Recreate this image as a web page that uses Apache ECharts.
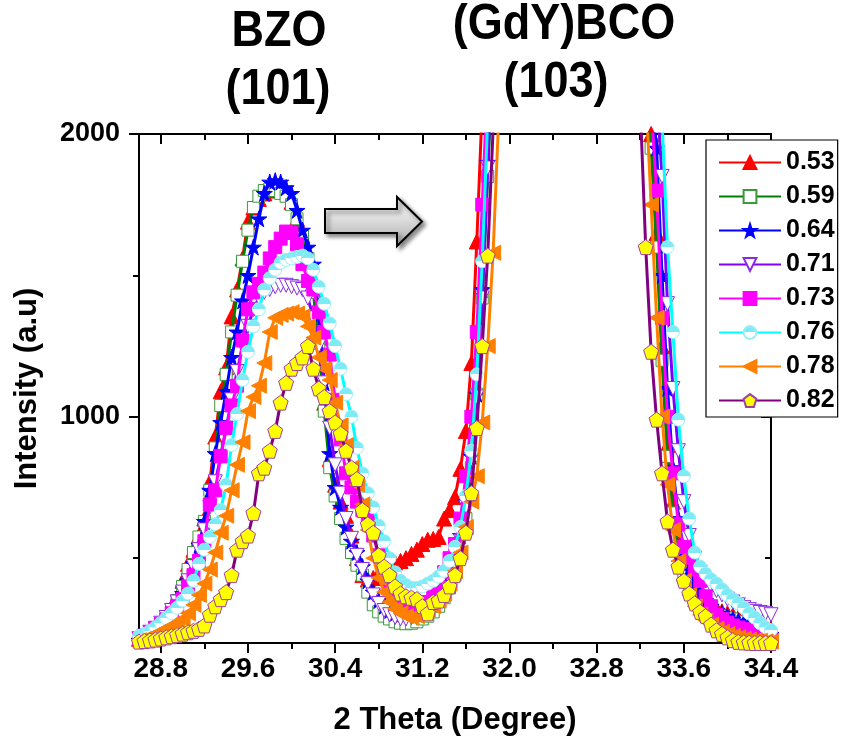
<!DOCTYPE html>
<html>
<head>
<meta charset="utf-8">
<title>XRD patterns</title>
<script src="https://cdn.jsdelivr.net/npm/echarts@6/dist/echarts.min.js"></script>
<style>
  html, body { margin: 0; padding: 0; background: #ffffff; }
  #chart { width: 841px; height: 741px; }
</style>
</head>
<body>
<div id="chart"></div>
<script>
// 2-theta sampling positions: the BZO (101) region and the tail of the (GdY)BCO (103) peak
const thetaLow = [28.60, 28.65, 28.70, 28.75, 28.80, 28.85, 28.90, 28.95, 29.00, 29.05,
  29.10, 29.15, 29.20, 29.25, 29.30, 29.35, 29.40, 29.45, 29.50, 29.55,
  29.60, 29.65, 29.70, 29.75, 29.80, 29.85, 29.90, 29.95, 30.00, 30.05,
  30.10, 30.15, 30.20, 30.25, 30.30, 30.35, 30.40, 30.45, 30.50, 30.55,
  30.60, 30.65, 30.70, 30.75, 30.80, 30.85, 30.90, 30.95, 31.00, 31.05,
  31.10, 31.15, 31.20, 31.25, 31.30, 31.35, 31.40, 31.45, 31.50, 31.55,
  31.60, 31.65, 31.70, 31.75, 31.80, 31.85, 31.90];
const thetaHigh = [33.15, 33.20, 33.25, 33.30, 33.35, 33.40, 33.45, 33.50, 33.55, 33.60,
  33.65, 33.70, 33.75, 33.80, 33.85, 33.90, 33.95, 34.00, 34.05, 34.10,
  34.15, 34.20, 34.25, 34.30, 34.35, 34.40];

// Sample labels (composition ratio)
const ratios = ['0.53', '0.59', '0.64', '0.71', '0.73', '0.76', '0.78', '0.82'];

// Intensities (a.u.) on thetaLow
const low053 = [215, 225, 235, 250, 268, 290, 320, 360, 420, 480,
  530, 580, 640, 770, 930, 1090, 1175, 1355, 1450, 1560,
  1690, 1740, 1770, 1790, 1800, 1810, 1815, 1800, 1760, 1700,
  1640, 1570, 1450, 1280, 1050, 850, 760, 700, 650, 580,
  500, 440, 425, 430, 445, 460, 475, 485, 490, 500,
  515, 530, 550, 565, 568, 575, 640, 670, 716, 816,
  950, 1190, 1620, 2100, 2600, 3100, 3600];
const low059 = [210, 220, 232, 248, 265, 288, 315, 350, 400, 460,
  520, 575, 630, 740, 890, 1040, 1150, 1300, 1430, 1550,
  1660, 1740, 1780, 1800, 1805, 1800, 1790, 1780, 1750, 1700,
  1640, 1560, 1440, 1260, 1020, 820, 720, 640, 570, 520,
  475, 440, 380, 335, 310, 295, 285, 275, 270, 268,
  270, 275, 285, 295, 310, 330, 360, 395, 440, 520,
  640, 820, 1080, 1420, 1850, 2300, 2800];
const low064 = [210, 218, 228, 242, 258, 278, 302, 335, 375, 420,
  480, 545, 630, 740, 870, 980, 1090, 1210, 1300, 1410,
  1500, 1600, 1700, 1790, 1830, 1835, 1830, 1810, 1790, 1730,
  1660, 1600, 1540, 1360, 1120, 870, 750, 680, 610, 560,
  520, 470, 420, 380, 350, 330, 315, 305, 300, 300,
  305, 315, 330, 345, 360, 380, 410, 450, 500, 580,
  700, 860, 1080, 1450, 1900, 2400, 2900];
const low071 = [215, 225, 238, 252, 270, 290, 315, 345, 380, 420,
  470, 530, 600, 680, 770, 860, 960, 1060, 1160, 1250,
  1320, 1380, 1420, 1440, 1450, 1460, 1465, 1465, 1460, 1455,
  1450, 1420, 1350, 1250, 1120, 960, 830, 730, 640, 570,
  510, 460, 410, 370, 340, 315, 300, 290, 285, 285,
  290, 300, 310, 325, 340, 360, 390, 430, 480, 560,
  680, 850, 1070, 1420, 1880, 2400, 2900];
const low073 = [215, 225, 238, 252, 268, 283, 305, 330, 355, 400,
  440, 490, 560, 690, 740, 860, 960, 1040, 1110, 1270,
  1380, 1440, 1470, 1510, 1560, 1600, 1630, 1655, 1650, 1610,
  1540, 1480, 1450, 1370, 1300, 1220, 1060, 920, 800, 750,
  700, 670, 640, 580, 510, 460, 410, 375, 350, 338,
  332, 330, 335, 345, 365, 400, 450, 500, 550, 640,
  790, 1000, 1300, 1750, 2200, 2700, 3200];
const low076 = [225, 232, 242, 255, 270, 288, 305, 325, 350, 375,
  420, 480, 530, 575, 620, 670, 760, 900, 1010, 1130,
  1230, 1320, 1380, 1450, 1490, 1520, 1545, 1555, 1560, 1565,
  1570, 1560, 1520, 1460, 1400, 1330, 1250, 1170, 1080, 1000,
  890, 800, 730, 680, 615, 560, 500, 450, 420, 405,
  395, 395, 400, 410, 420, 435, 455, 490, 540, 610,
  720, 880, 1150, 1550, 2050, 2600, 3100];
const low078 = [210, 215, 222, 232, 242, 252, 262, 272, 285, 305,
  335, 370, 410, 460, 520, 590, 650, 740, 830, 910,
  1020, 1070, 1110, 1190, 1300, 1350, 1360, 1365, 1370, 1365,
  1355, 1320, 1280, 1210, 1170, 1130, 1050, 970, 900, 820,
  760, 690, 600, 500, 430, 380, 345, 320, 305, 295,
  290, 295, 305, 315, 330, 350, 375, 410, 455, 520,
  610, 700, 790, 980, 1250, 1580, 2050];
const low082 = [205, 207, 209, 212, 216, 220, 224, 228, 233, 238,
  243, 250, 262, 300, 330, 355, 380, 440, 530, 560,
  580, 660, 800, 820, 880, 950, 1050, 1120, 1170, 1190,
  1210, 1250, 1170, 1100, 1070, 1020, 980, 940, 880, 820,
  780, 670, 620, 590, 510, 470, 440, 400, 375, 365,
  360, 355, 330, 305, 345, 350, 370, 400, 440, 500,
  590, 730, 960, 1250, 1570, 2020, 2450];

// Intensities (a.u.) on thetaHigh
const high053 = [2700, 2400, 2200, 2000, 1650, 1250, 900, 700, 560, 480,
  430, 395, 370, 350, 335, 322, 312, 305, 298, 290,
  283, 278, 270, 262, 255, 248];
const high059 = [2650, 2350, 2150, 1950, 1600, 1200, 860, 660, 530, 450,
  400, 365, 340, 320, 308, 300, 295, 290, 285, 275,
  262, 250, 238, 228, 220, 215];
const high064 = [2900, 2600, 2350, 2150, 1950, 1500, 1100, 820, 640, 530,
  460, 410, 375, 350, 330, 315, 305, 295, 285, 278,
  272, 265, 255, 245, 238, 230];
const high071 = [3000, 2700, 2450, 2250, 2150, 1850, 1400, 1100, 880, 700,
  580, 500, 450, 420, 400, 385, 370, 355, 345, 335,
  325, 318, 312, 308, 305, 300];
const high073 = [2800, 2500, 2250, 2100, 1800, 1350, 1000, 800, 620, 540,
  500, 460, 420, 365, 330, 300, 285, 272, 262, 255,
  250, 245, 240, 235, 230, 225];
const high076 = [3200, 2900, 2600, 2400, 2200, 2050, 1600, 1300, 990, 790,
  640, 520, 470, 445, 425, 410, 390, 370, 355, 340,
  325, 305, 290, 270, 255, 245];
const high078 = [2600, 2300, 2150, 1750, 1350, 1000, 760, 600, 490, 420,
  370, 330, 300, 280, 265, 250, 240, 232, 225, 220,
  215, 212, 210, 208, 206, 205];
const high082 = [2600, 2100, 1600, 1230, 990, 800, 630, 530, 470, 420,
  375, 340, 310, 295, 265, 245, 232, 220, 210, 204,
  202, 201, 200, 200, 200, 200];

const lowSets = [low053, low059, low064, low071, low073, low076, low078, low082];
const highSets = [high053, high059, high064, high071, high073, high076, high078, high082];

// Axis ticks and labels
const majorX = [28.8, 29.6, 30.4, 31.2, 32.0, 32.8, 33.6, 34.4];
const minorX = [29.2, 30.0, 30.8, 31.6, 32.4, 33.2, 34.0];
const majorY = [1000, 2000];
const minorY = [500, 1500];

// ---- styling ----
const FONT = '"Liberation Sans", Arial, Helvetica, sans-serif';
const STAR = 'path://M50,0 L61.2,34.5 L97.6,34.5 L68.2,55.9 L79.4,90.5 L50,69.1 L20.6,90.5 L31.8,55.9 L2.4,34.5 L38.8,34.5 Z';
const PENTAGON = 'path://M50,0 L100,36.3 L80.9,95.1 L19.1,95.1 L0,36.3 Z';
const DOWN_TRI = 'path://M0,0 L100,0 L50,88 Z';
const LEFT_TRI = 'path://M0,50 L88,0 L88,100 Z';
const halfFill = {
  type: 'linear', x: 0, y: 0, x2: 0, y2: 1,
  colorStops: [
    { offset: 0, color: '#7DEBF5' }, { offset: 0.5, color: '#7DEBF5' },
    { offset: 0.5, color: '#FFFFFF' }, { offset: 1, color: '#FFFFFF' }
  ]
};
const looks = [
  { line: '#FF0000', symbol: 'triangle', size: 15, fill: '#FF0000', border: '#FF0000' },
  { line: '#008000', symbol: 'rect', size: 12, fill: '#FFFFFF', border: '#3A9A3A' },
  { line: '#0000FF', symbol: STAR, size: 16, fill: '#0000FF', border: '#0000FF' },
  { line: '#8000FF', symbol: DOWN_TRI, size: 14, fill: '#FFFFFF', border: '#8A2BE2' },
  { line: '#FF00FF', symbol: 'rect', size: 13, fill: '#FF00FF', border: '#FF00FF' },
  { line: '#00FFFF', symbol: 'circle', size: 13, fill: halfFill, border: '#9AEFF7' },
  { line: '#FF8000', symbol: LEFT_TRI, size: 15, fill: '#FF8000', border: '#FF8000' },
  { line: '#800080', symbol: PENTAGON, size: 15, fill: '#FFFF00', border: '#A040A0' }
];

function joinData(lo, hi) {
  const out = [];
  thetaLow.forEach((t, i) => out.push([t, lo[i]]));
  thetaHigh.forEach((t, i) => out.push([t, hi[i]]));
  return out;
}

const series = ratios.map((name, k) => ({
  type: 'line',
  name: name,
  data: joinData(lowSets[k], highSets[k]),
  xAxisIndex: 0,
  yAxisIndex: 0,
  clip: true,
  symbol: looks[k].symbol,
  symbolSize: looks[k].size,
  showAllSymbol: true,
  lineStyle: { color: looks[k].line, width: 3 },
  itemStyle: { color: looks[k].fill, borderColor: looks[k].border, borderWidth: 1 },
  emphasis: { disabled: true },
  z: 2 + k
}));

const AX = { color: '#000', width: 2 };
const GRID = { left: 139, right: 70, top: 134, bottom: 98 };
const boldText = (size) => ({ fontFamily: FONT, fontWeight: 'bold', fontSize: size, color: '#000' });

function xAx(grid, pos, ticks, inside, len, withLine, withLabel) {
  return {
    gridIndex: grid, type: 'value', position: pos, min: 28.6, max: 34.4,
    axisLine: { show: withLine, onZero: false, lineStyle: AX },
    axisTick: { show: true, customValues: ticks, inside: inside, length: len, lineStyle: AX },
    axisLabel: withLabel
      ? Object.assign({ show: true, customValues: majorX, margin: 12, formatter: v => v.toFixed(1) }, boldText(28))
      : { show: false },
    splitLine: { show: false }
  };
}
function yAx(grid, pos, ticks, inside, len, withLine, withLabel) {
  return {
    gridIndex: grid, type: 'value', position: pos, min: 200, max: 2000,
    axisLine: { show: withLine, onZero: false, lineStyle: AX },
    axisTick: { show: true, customValues: ticks, inside: inside, length: len, lineStyle: AX },
    axisLabel: withLabel
      ? Object.assign({ show: true, customValues: majorY, margin: 19, formatter: v => String(v) }, boldText(27))
      : { show: false },
    splitLine: { show: false }
  };
}

const xMain = xAx(0, 'bottom', majorX, false, 10, true, true);
xMain.name = '2 Theta (Degree)';
xMain.nameLocation = 'middle';
xMain.nameGap = 62;
xMain.nameTextStyle = boldText(31);

const yMain = yAx(0, 'left', majorY, false, 10, true, true);
yMain.name = 'Intensity (a.u)';
yMain.nameLocation = 'middle';
yMain.nameGap = 96;
yMain.nameTextStyle = boldText(31);

const arrowFill = {
  type: 'linear', x: 0, y: 0, x2: 0, y2: 1,
  colorStops: [
    { offset: 0, color: '#F2F2F2' }, { offset: 0.45, color: '#DEDEDE' }, { offset: 1, color: '#A9A9A9' }
  ]
};
const headFont = 'bold 50px ' + FONT;

const chart = echarts.init(document.getElementById('chart'), null, { renderer: 'canvas' });
chart.setOption({
  animation: false,
  backgroundColor: '#ffffff',
  grid: [Object.assign({}, GRID), Object.assign({}, GRID)],
  xAxis: [
    xMain,
    xAx(0, 'top', majorX, true, 10, true, false),
    xAx(1, 'bottom', minorX, false, 6, false, false),
    xAx(1, 'top', minorX, true, 6, false, false)
  ],
  yAxis: [
    yMain,
    yAx(0, 'right', majorY, true, 10, true, false),
    yAx(1, 'left', minorY, false, 6, false, false),
    yAx(1, 'right', minorY, true, 6, false, false)
  ],
  legend: {
    orient: 'vertical',
    left: 706, top: 140,
    padding: [10, 3, 4, 12],
    itemWidth: 62, itemHeight: 16, itemGap: 9, itemTextGap: 5,
    borderColor: '#000', borderWidth: 1.2, backgroundColor: '#ffffff',
    textStyle: boldText(25),
    data: ratios
  },
  graphic: [
    { type: 'text', x: 279, y: 32, scaleX: 0.9, style: { text: 'BZO', font: headFont, fill: '#000', align: 'center', verticalAlign: 'middle' } },
    { type: 'text', x: 278, y: 90, scaleX: 0.9, style: { text: '(101)', font: headFont, fill: '#000', align: 'center', verticalAlign: 'middle' } },
    { type: 'text', x: 564, y: 25, scaleX: 0.9, style: { text: '(GdY)BCO', font: headFont, fill: '#000', align: 'center', verticalAlign: 'middle' } },
    { type: 'text', x: 556, y: 83, scaleX: 0.9, style: { text: '(103)', font: headFont, fill: '#000', align: 'center', verticalAlign: 'middle' } },
    {
      type: 'polygon', z: 50,
      shape: { points: [[325, 209], [397, 209], [397, 197], [422, 221.5], [397, 246], [397, 233], [325, 233]] },
      style: { fill: arrowFill, stroke: '#000', lineWidth: 2, shadowBlur: 4, shadowOffsetX: 3, shadowOffsetY: 3, shadowColor: 'rgba(0,0,0,0.45)' }
    }
  ],
  series: series
});
</script>
</body>
</html>
